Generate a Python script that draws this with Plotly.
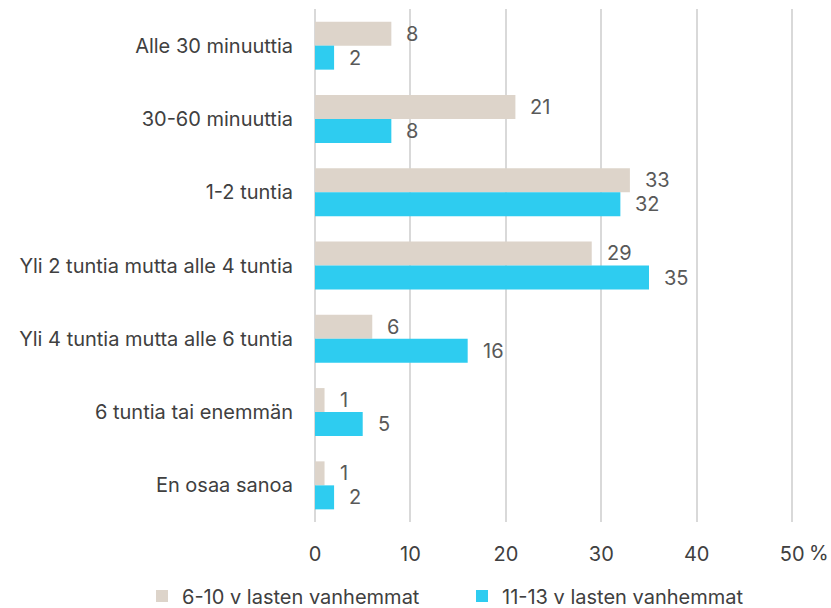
import plotly.graph_objects as go

categories = ["Alle 30 minuuttia", "30-60 minuuttia", "1-2 tuntia",
              "Yli 2 tuntia mutta alle 4 tuntia", "Yli 4 tuntia mutta alle 6 tuntia",
              "6 tuntia tai enemmän", "En osaa sanoa"]
series_names = ["6-10 v lasten vanhemmat", "11-13 v lasten vanhemmat"]
values_6_10 = [8, 21, 33, 29, 6, 1, 1]
values_11_13 = [2, 8, 32, 35, 16, 5, 2]
x_ticks = [0, 10, 20, 30, 40, 50]

colors = ["#DDD4CA", "#2ECCF0"]
FONT = "Inter, Roboto, sans-serif"
FS = 20

fig = go.Figure()
for name, vals, col, lg in zip(series_names, [values_6_10, values_11_13], colors,
                               ["legend", "legend2"]):
    fig.add_trace(go.Bar(y=categories, x=vals, name=name, orientation="h", legend=lg,
                         marker=dict(color=col, line=dict(width=0))))

offsets = [-0.165, 0.165]
for k, vals in enumerate([values_6_10, values_11_13]):
    for i, v in enumerate(vals):
        fig.add_annotation(x=v, y=i + offsets[k], xref="x", yref="y", text=str(v),
                           showarrow=False, xanchor="left", xshift=13,
                           font=dict(family=FONT, size=FS, color="#595959"))

fig.add_annotation(x=50, y=0, xref="x", yref="paper", text="%", showarrow=False,
                   xanchor="left", yanchor="middle", xshift=15, yshift=-31,
                   font=dict(family=FONT, size=FS, color="#404040"))

leg_common = dict(orientation="h", xref="container", yref="container",
                  xanchor="left", y=(608 - 596) / 608, yanchor="middle",
                  font=dict(size=FS, color="#404040"), itemwidth=30)

fig.update_layout(
    width=831, height=608,
    margin=dict(l=315, r=36, t=9, b=86, autoexpand=False),
    barmode="group", bargap=0.345, bargroupgap=0,
    plot_bgcolor="white", paper_bgcolor="white",
    font=dict(family=FONT, size=FS, color="#404040"),
    showlegend=True,
    legend=dict(x=142 / 831, **leg_common),
    legend2=dict(x=462 / 831, **leg_common),
    xaxis=dict(range=[0, 50.3], tickvals=x_ticks, showgrid=True, gridcolor="#D9D9D9",
               gridwidth=2, zeroline=True, zerolinecolor="#D9D9D9", zerolinewidth=2,
               ticks="outside", ticklen=14, tickcolor="white", showline=False,
               tickfont=dict(size=FS, color="#404040")),
    yaxis=dict(autorange="reversed", ticks="outside", ticklen=17, tickcolor="white",
               showgrid=False, showline=False,
               tickfont=dict(size=FS, color="#404040")),
)

fig.write_html("out.html", config={"displayModeBar": False},
               post_script="document.body.style.margin='0';")
